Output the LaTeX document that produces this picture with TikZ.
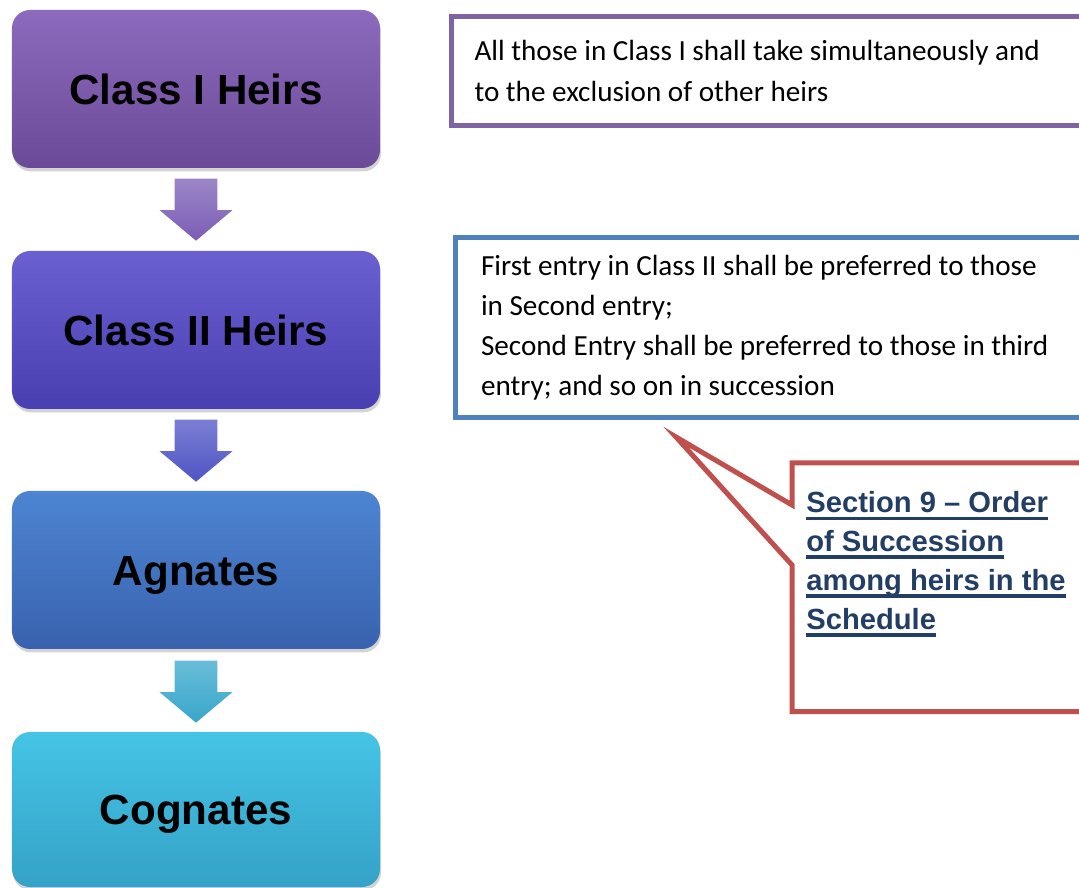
\documentclass[tikz,border=0pt]{standalone}
\usepackage{xcolor}
\usepackage{fontspec}
\usepackage{tikz}
\usetikzlibrary{calc}
\usetikzlibrary{shapes.arrows}
\usetikzlibrary{shadows}
\setmainfont{Carlito}
\newfontfamily\heirfont{Liberation Sans}
\newcommand{\thickul}[1]{\setbox0\hbox{#1}\rlap{\rule[-4.2pt]{\wd0}{2.2pt}}\box0}

\begin{document}
\begin{tikzpicture}[
    heir/.style={rounded corners=0.36cm, minimum width=7.36cm, minimum height=3.16cm,
      text height=0.61cm, text depth=0cm,
      font=\heirfont\bfseries\fontsize{24}{28}\selectfont, text=black,
      drop shadow={opacity=0.35, shadow xshift=0.02cm, shadow yshift=-0.07cm}},
    downarrow/.style={single arrow, rotate=-90, anchor=tail, minimum height=1.24cm,
      single arrow head extend=0.3cm, single arrow tip angle=100,
      inner xsep=0cm, inner ysep=0.42cm,
      top color=#1!75!white, bottom color=#1},
    notebox/.style={draw, line width=0.1cm, anchor=north west, align=flush left,
      text width=12.0cm, font=\fontsize{16.6}{23.8}\selectfont},
    secbox/.style={anchor=north west, minimum width=6.3cm, minimum height=4.96cm, inner sep=0pt},
    sectext/.style={anchor=north west, align=flush left, inner sep=0pt,
      font=\heirfont\bfseries\fontsize{16.6}{22.1}\selectfont},
    calloutline/.style={line width=0.1cm, line join=miter}
  ]
  \useasboundingbox (0,0) rectangle (21.580000,-17.760000);

  % Changing colors
  \definecolor{r140g107b190}{RGB}{140,107,190}%
  \definecolor{r107g74b152}{RGB}{107,74,152}%
  \definecolor{r106g96b210}{RGB}{106,96,210}%
  \definecolor{r74g63b176}{RGB}{74,63,176}%
  \definecolor{r77g133b210}{RGB}{77,133,210}%
  \definecolor{r57g98b174}{RGB}{57,98,174}%
  \definecolor{r69g196b230}{RGB}{69,196,230}%
  \definecolor{r52g162b198}{RGB}{52,162,198}%
  \definecolor{r123g93b181}{RGB}{123,93,181}%
  \definecolor{r79g84b196}{RGB}{79,84,196}%
  \definecolor{r56g166b203}{RGB}{56,166,203}%
  \definecolor{r128g100b162}{RGB}{128,100,162}%
  \definecolor{r79g129b189}{RGB}{79,129,189}%
  \definecolor{r192g80b77}{RGB}{192,80,77}%
  \definecolor{r35g62b100}{RGB}{35,62,100}%

  % Drawing boxes of heirs
  \node[heir, top color=r140g107b190, bottom color=r107g74b152] (cls1) at (3.920000,-1.780000) {Class I Heirs};
  \node[heir, top color=r106g96b210, bottom color=r74g63b176] (cls2) at (3.920000,-6.600000) {Class II Heirs};
  \node[heir, top color=r77g133b210, bottom color=r57g98b174] (agn) at (3.920000,-11.400000) {Agnates};
  \node[heir, minimum height=3.10cm, top color=r69g196b230, bottom color=r52g162b198] (cog) at (3.920000,-16.190000) {Cognates};

  % Drawing arrows between boxes
  \node[downarrow=r123g93b181] (ar1) at ([yshift=-0.2cm]cls1.south) {};
  \node[downarrow=r79g84b196] (ar2) at ([yshift=-0.2cm]cls2.south) {};
  \node[downarrow=r56g166b203] (ar3) at ([yshift=-0.22cm]agn.south) {};

  % Drawing notes
  \node[notebox, draw=r128g100b162, minimum height=2.18cm, inner xsep=0.46cm] (note1) at (8.980000,-0.280000)
    {All those in Class I shall take simultaneously and\\to the exclusion of other heirs};
  \node[notebox, draw=r79g129b189, minimum height=3.59cm, inner xsep=0.52cm,
    font=\fontsize{16.6}{22.7}\selectfont] (note2) at (9.050000,-4.710000)
    {First entry in Class II shall be preferred to those\\in Second entry;\\Second Entry shall be preferred to those in third\\entry; and so on in succession};

  % Drawing callout Section 9
  \node[secbox] (sec) at (15.840000,-9.260000) {};
  \coordinate (tip) at (13.520000,-8.740000);
  \node[sectext, text=r35g62b100] (sectxt) at ([xshift=0.28cm,yshift=-0.57cm]sec.north west)
    {\thickul{Section 9 – Order}\\\thickul{of Succession}\\\thickul{among heirs in the}\\\thickul{Schedule}};
  \draw[calloutline, draw=r192g80b77] (sec.north east) -- (sec.north west) -- ([yshift=-0.84cm]sec.north west)
    -- (tip) -- ([yshift=-2.04cm]sec.north west) -- (sec.south west) -- (sec.south east);%
\end{tikzpicture}
\end{document}
